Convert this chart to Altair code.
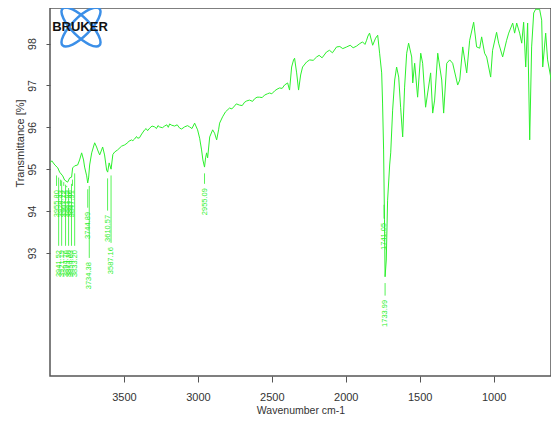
import altair as alt
import pandas as pd

# ---- spectrum ----
wavenumbers = [
    4000, 3988, 3967, 3947, 3935, 3914, 3901, 3881, 3867, 3854, 3847, 3833, 3813, 3800,
    3786, 3773, 3766, 3752, 3745, 3739, 3732, 3718, 3698, 3685, 3678, 3664, 3651, 3644,
    3631, 3617, 3610, 3600, 3587, 3575, 3563, 3543, 3516, 3495, 3475, 3470, 3448, 3440,
    3428, 3415, 3407, 3395, 3380, 3360, 3350, 3340, 3326, 3310, 3292, 3280, 3270, 3259,
    3240, 3225, 3210, 3200, 3191, 3177, 3157, 3140, 3123, 3110, 3090, 3070, 3056, 3040,
    3022, 3002, 2988, 2975, 2966, 2955, 2948, 2941, 2934, 2920, 2900, 2887, 2873, 2860,
    2853, 2833, 2813, 2786, 2770, 2752, 2740, 2718, 2700, 2684, 2670, 2651, 2630, 2617,
    2600, 2583, 2565, 2549, 2530, 2515, 2500, 2481, 2465, 2448, 2430, 2414, 2393,
    2380, 2366, 2353, 2346, 2332, 2319, 2305, 2292, 2265, 2244, 2220, 2197, 2180, 2160,
    2130, 2110, 2090, 2062, 2040, 2020, 1994, 1970, 1950, 1927, 1905, 1886, 1870, 1859,
    1850, 1839, 1818, 1798, 1784, 1771, 1757, 1751, 1744, 1738, 1734, 1726,
    1717, 1703, 1696, 1683, 1669, 1656, 1642, 1629, 1615, 1602, 1588, 1575, 1554, 1547,
    1534, 1514, 1493, 1480, 1460, 1446, 1426, 1412, 1399, 1378, 1351, 1338, 1317, 1297,
    1277, 1243, 1229, 1209, 1182, 1162, 1135, 1115, 1094, 1081, 1061, 1047, 1020, 1007,
    980, 966, 939, 912, 898, 871, 858, 844, 824, 810, 797, 783, 770, 756,
    743, 729, 716, 689, 675, 668, 648, 635, 614, 601, 587, 574, 561,
]
transmittance = [
    95.15, 95.20, 95.10, 95.03, 94.93, 94.84, 94.74, 94.69, 94.79, 94.81, 95.03, 95.08, 95.10, 95.22,
    95.39, 95.22, 95.05, 94.84, 94.67, 94.79, 95.10, 95.39, 95.63, 95.53, 95.46, 95.34, 95.46, 95.53,
    95.34, 94.98, 94.93, 95.15, 95.00, 95.35, 95.41, 95.46, 95.55, 95.58, 95.63, 95.66, 95.70, 95.68,
    95.72, 95.78, 95.74, 95.75, 95.84, 95.94, 95.97, 95.92, 95.98, 96.03, 96.01, 95.97, 96.04, 96.01,
    95.99, 96.03, 96.06, 96.00, 96.08, 96.05, 96.03, 96.06, 95.98, 95.96, 96.01, 96.04, 96.01, 95.97,
    96.10, 95.94, 95.74, 95.46, 95.22, 95.05, 95.27, 95.39, 95.27, 95.77, 95.94, 95.86, 95.70, 95.94,
    96.10, 96.25, 96.37, 96.46, 96.44, 96.51, 96.56, 96.53, 96.52, 96.60, 96.63, 96.65, 96.62, 96.68,
    96.72, 96.72, 96.71, 96.77, 96.80, 96.82, 96.80, 96.87, 96.91, 96.94, 96.93, 97.01, 97.06,
    96.89, 97.44, 97.61, 97.65, 97.30, 96.89, 97.25, 97.44, 97.56, 97.61, 97.60, 97.68, 97.72, 97.66,
    97.80, 97.84, 97.78, 97.92, 97.93, 97.88, 97.92, 97.96, 97.90, 97.94, 98.00, 98.04, 97.98, 98.08,
    98.18, 98.25, 97.96, 98.13, 98.20, 97.77, 97.30, 96.58, 95.46, 93.79, 92.43, 92.83,
    94.26, 95.10, 95.39, 96.41, 97.13, 97.44, 97.20, 96.48, 95.77, 96.96, 97.77, 98.01, 97.68, 97.06,
    97.53, 96.72, 97.77, 97.53, 96.48, 96.82, 97.30, 96.34, 96.65, 97.77, 97.13, 96.34, 97.53, 97.61,
    97.53, 97.01, 97.13, 97.92, 97.30, 98.08, 98.51, 97.92, 97.89, 98.16, 97.77, 97.68, 97.20, 97.84,
    98.27, 98.01, 97.68, 98.08, 98.25, 98.49, 98.25, 98.49, 98.25, 98.01, 98.51, 97.44, 98.49, 95.70,
    97.92, 98.73, 98.82, 98.82, 98.56, 97.44, 98.25, 97.61, 97.20, 96.89, 97.20, 96.25, 97.06,
]

# ---- peak labels ----
peak_wavenumbers = [3955.80, 3941.52, 3928.43, 3921.19, 3907.12, 3894.76, 3887.05, 3874.30,
                    3867.46, 3854.63, 3847.91, 3833.20, 3744.89, 3734.38, 3610.57, 3587.16,
                    2955.09, 1741.05, 1733.99]
peak_labels = ["3955.80", "3941.52", "3928.43", "3921.19", "3907.12", "3894.76", "3887.05", "3874.30",
               "3867.46", "3854.63", "3847.91", "3833.20", "3744.89", "3734.38", "3610.57", "3587.16",
               "2955.09", "1741.05", "1733.99"]
peak_transmittance = [95.00, 94.95, 94.90, 94.88, 94.84, 94.78, 94.72, 94.70,
                      94.75, 94.80, 94.90, 95.05, 94.67, 94.75, 94.93, 95.00,
                      95.05, 94.30, 92.43]
label_levels = [94.50, 93.07, 94.50, 93.07, 94.50, 93.07, 94.50, 93.07,
                94.50, 93.07, 94.50, 93.07, 93.98, 92.78, 93.91, 93.14,
                94.55, 93.72, 91.88]

x_ticks = [3500, 3000, 2500, 2000, 1500, 1000]
y_ticks = [93, 94, 95, 96, 97, 98]

GREEN = "#2cf02c"
FONT = "Liberation Sans"

spec = pd.DataFrame({"wn": wavenumbers, "T": transmittance})
peaks = pd.DataFrame({"wn": peak_wavenumbers, "label": peak_labels,
                      "T": peak_transmittance, "level": label_levels})
peaks["top"] = peaks["T"] - 0.15
peaks["bottom"] = peaks["level"] + 0.1

x_scale = alt.Scale(domain=[612, 4000], reverse=True, nice=False, zero=False)
y_scale = alt.Scale(domain=[90.06, 98.85], nice=False, zero=False)

x_axis = alt.Axis(values=x_ticks, format="d", title="Wavenumber cm-1", tickSize=6,
                  labelPadding=9, labelFontSize=11, titleFontSize=10.5, titleY=34,
                  titleBaseline="middle")
y_axis = alt.Axis(values=y_ticks, format="d", title="Transmittance [%]", labelAngle=270,
                  labelAlign="center", labelBaseline="bottom", tickSize=4, labelPadding=9,
                  labelFontSize=10.5, titleFontSize=11, titleAngle=270, titleX=-30, titleY=135,
                  titleAlign="center", titleBaseline="middle")

line = alt.Chart(spec).mark_line(color=GREEN, strokeWidth=1, clip=True).encode(
    x=alt.X("wn:Q", scale=x_scale, axis=x_axis),
    y=alt.Y("T:Q", scale=y_scale, axis=y_axis),
)

rules = alt.Chart(peaks).mark_rule(color=GREEN, strokeWidth=0.8).encode(
    x=alt.X("wn:Q", scale=x_scale, axis=x_axis),
    y=alt.Y("top:Q", scale=y_scale, axis=y_axis),
    y2="bottom:Q",
)

texts = alt.Chart(peaks).mark_text(angle=270, align="right", baseline="middle", fontSize=7.5,
                                   font=FONT, color=GREEN).encode(
    x=alt.X("wn:Q", scale=x_scale, axis=x_axis),
    y=alt.Y("level:Q", scale=y_scale, axis=y_axis),
    text="label:N",
)

ELLIPSE = "M-1,0 A1,0.35 0 1,1 1,0 A1,0.35 0 1,1 -1,0 Z"
logo_df = pd.DataFrame({"k": [0]})
orbit1 = alt.Chart(logo_df).mark_point(shape=ELLIPSE, size=2704, filled=False, stroke="#3b8fe8",
                                       strokeWidth=2.5, angle=45, opacity=1).encode(
    x=alt.value(31), y=alt.value(19))
orbit2 = alt.Chart(logo_df).mark_point(shape=ELLIPSE, size=2704, filled=False, stroke="#3b8fe8",
                                       strokeWidth=2.5, angle=135, opacity=1).encode(
    x=alt.value(31), y=alt.value(19))
brand = alt.Chart(logo_df).mark_text(text="BRUKER", font="Liberation Sans", fontWeight="bold",
                                     fontSize=13, color="#111111").encode(
    x=alt.value(30), y=alt.value(19))

chart = alt.layer(line, rules, texts, orbit1, orbit2, brand).properties(
    width=501, height=368,
    autosize=alt.AutoSizeParams(type="none"),
    padding={"left": 42, "top": 0, "right": 0, "bottom": 39},
).configure_view(
    stroke="#555555", strokeWidth=1.5
).configure_axis(
    domain=False, grid=False, tickColor="#555555", labelColor="#333333",
    titleColor="#333333", labelFont=FONT, titleFont=FONT, titleFontWeight="normal",
)

chart.save("out.html", embed_options={"renderer": "svg", "actions": False})
